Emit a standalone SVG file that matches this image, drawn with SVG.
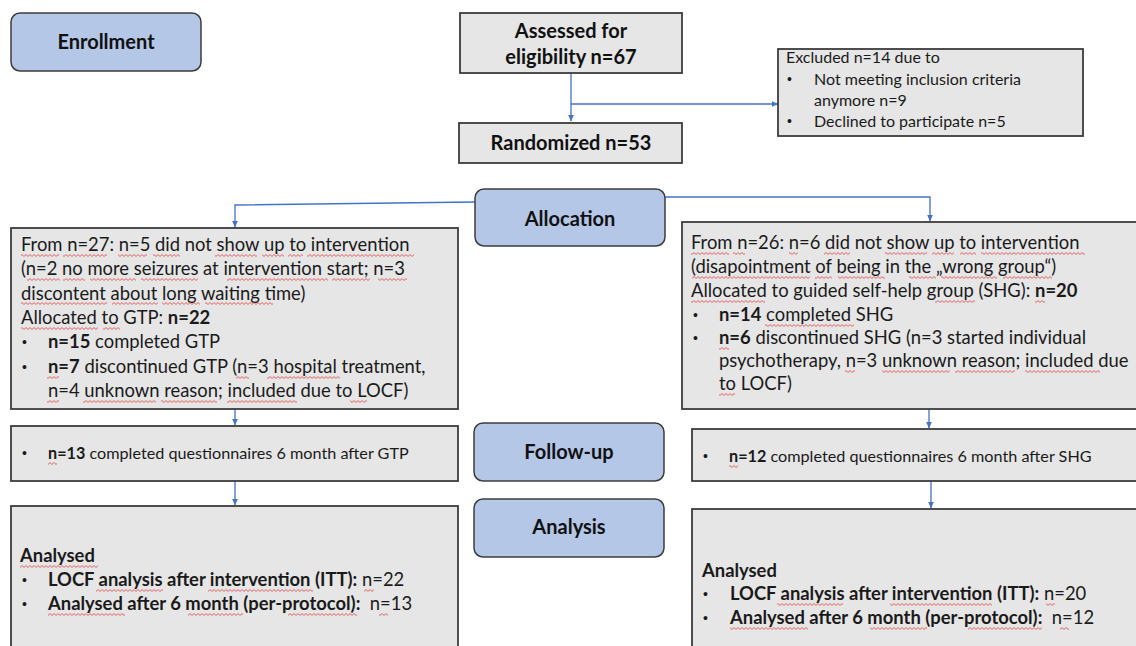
<svg xmlns="http://www.w3.org/2000/svg" width="1136" height="646" viewBox="0 0 1136 646">
<style>
.stage{fill:#b4c7e7;stroke:#3c3c3c;stroke-width:1.5}
.box{fill:#e6e6e6;stroke:#3c3c3c;stroke-width:1.8}
text{font-family:Lato,'Liberation Sans',sans-serif;fill:#1a1a1a}
.h{font-weight:bold;font-size:20px;text-anchor:middle;fill:#111}
.t{font-size:18.4px}
.s{font-size:16.2px}
.e{font-size:16px}
.b{font-weight:bold}
.bu{font-family:'Liberation Sans',sans-serif;font-size:14px}
.sq rect{fill:url(#sq);height:3px}
.conn{fill:none;stroke:#4472c4;stroke-width:1.3}
</style>
<defs>
<marker id="ar" markerWidth="8" markerHeight="8" refX="6" refY="4" orient="auto" markerUnits="userSpaceOnUse"><path d="M0,1.2 L6.5,4 L0,6.8z" fill="#4472c4"/></marker>
<pattern id="sq" width="4" height="3" patternUnits="userSpaceOnUse"><path d="M-2,0.5 L0,2.5 L2,0.5 L4,2.5 L6,0.5" fill="none" stroke="#e2363a" stroke-width="0.8"/></pattern>
</defs>

<g id="connectors">
<path class="conn" d="M571,73 V121" marker-end="url(#ar)"/>
<path class="conn" d="M571,104 H778" marker-end="url(#ar)"/>
<path class="conn" d="M475,202 L235,205 V227" marker-end="url(#ar)"/>
<path class="conn" d="M665,197 H930 V221" marker-end="url(#ar)"/>
<path class="conn" d="M235,409 V425" marker-end="url(#ar)"/>
<path class="conn" d="M235,481 V505" marker-end="url(#ar)"/>
<path class="conn" d="M929,409 V428" marker-end="url(#ar)"/>
<path class="conn" d="M931,481 V508" marker-end="url(#ar)"/>
</g>

<g id="enrollment">
<rect class="stage" x="11" y="13" width="190" height="58" rx="9"/>
<text class="h" x="106" y="49">Enrollment</text>
</g>

<g id="assessed">
<rect class="box" x="460" y="13" width="222" height="60"/>
<text class="h" x="571" y="38">Assessed for</text>
<text class="h" x="571" y="64">eligibility n=67</text>
</g>

<g id="excluded">
<rect class="box" x="778" y="49" width="305" height="87"/>
<text class="e" x="786" y="63">Excluded n=14 due to</text>
<text class="bu" x="787" y="84">•</text>
<text class="e" x="814" y="85">Not meeting inclusion criteria</text>
<text class="e" x="814" y="106">anymore n=9</text>
<text class="bu" x="787" y="126">•</text>
<text class="e" x="814" y="127">Declined to participate n=5</text>
</g>

<g id="randomized">
<rect class="box" x="459" y="123" width="223" height="40"/>
<text class="h" x="571" y="150">Randomized n=53</text>
</g>

<g id="allocation">
<rect class="stage" x="475" y="189" width="190" height="57" rx="9"/>
<text class="h" x="570" y="226">Allocation</text>
</g>

<g id="gtp">
<rect class="box" x="11" y="228" width="447" height="181"/>
<text class="t" x="21" y="251">From n=27: n=5 did not show up to intervention</text>
<text class="t" x="21" y="275">(n=2 no more seizures at intervention start; n=3</text>
<text class="t" x="21" y="300">discontent about long waiting time)</text>
<text class="t" x="21" y="324">Allocated to GTP: <tspan class="b">n=22</tspan></text>
<text class="bu" x="22" y="347">•</text>
<text class="t" x="48" y="348"><tspan class="b">n=15</tspan> completed GTP</text>
<text class="bu" x="22" y="372">•</text>
<text class="t" x="48" y="373"><tspan class="b">n=7</tspan> discontinued GTP (n=3 hospital treatment,</text>
<text class="t" x="48" y="397">n=4 unknown reason; included due to LOCF)</text>
<g class="sq">
<g transform="translate(0,254)"><rect x="21" width="38"/><rect x="63" width="44"/><rect x="118" width="29"/><rect x="153" width="27"/><rect x="215" width="42"/><rect x="262" width="22"/><rect x="288" width="15"/><rect x="307" width="107"/></g>
<g transform="translate(0,278)"><rect x="27" width="33"/><rect x="63" width="22"/><rect x="90" width="46"/><rect x="141" width="57"/><rect x="227" width="101"/><rect x="332" width="38"/><rect x="378" width="29"/></g>
<g transform="translate(0,302)"><rect x="21" width="86"/><rect x="112" width="46"/><rect x="162" width="38"/><rect x="205" width="68"/></g>
<g transform="translate(0,327)"><rect x="21" width="77"/><rect x="103" width="17"/></g>
<g transform="translate(0,376)"><rect x="47" width="12"/><rect x="236" width="13"/><rect x="267" width="73"/></g>
<g transform="translate(0,400)"><rect x="47" width="12"/><rect x="83" width="73"/><rect x="161" width="56"/><rect x="227" width="70"/><rect x="350" width="17"/></g>
</g>
</g>

<g id="shg">
<rect class="box" x="682" y="222" width="470" height="187"/>
<text class="t" x="691" y="249">From n=26: n=6 did not show up to intervention</text>
<text class="t" x="691" y="273">(disapointment of being in the „wrong group“)</text>
<text class="t" x="691" y="297">Allocated to guided self-help group (SHG): <tspan class="b">n=20</tspan></text>
<text class="bu" x="693" y="320">•</text>
<text class="t" x="719" y="321"><tspan class="b">n=14</tspan> completed SHG</text>
<text class="bu" x="693" y="343">•</text>
<text class="t" x="719" y="344"><tspan class="b">n=6</tspan> discontinued SHG (n=3 started individual</text>
<text class="t" x="719" y="367">psychotherapy, n=3 unknown reason; included due</text>
<text class="t" x="719" y="390">to LOCF)</text>
<g class="sq">
<g transform="translate(0,252)"><rect x="691" width="38"/><rect x="733" width="12"/><rect x="789" width="9"/><rect x="824" width="26"/><rect x="885" width="42"/><rect x="932" width="22"/><rect x="960" width="16"/><rect x="981" width="104"/></g>
<g transform="translate(0,276)"><rect x="692" width="118"/><rect x="815" width="17"/><rect x="838" width="47"/><rect x="909" width="27"/><rect x="941" width="56"/><rect x="1003" width="49"/></g>
<g transform="translate(0,300)"><rect x="691" width="74"/><rect x="935" width="40"/><rect x="1035" width="10"/></g>
<g transform="translate(0,324)"><rect x="765" width="89"/></g>
<g transform="translate(0,347)"><rect x="719" width="10"/></g>
<g transform="translate(0,370)"><rect x="845" width="10"/><rect x="882" width="68"/><rect x="955" width="60"/><rect x="1025" width="75"/></g>
<g transform="translate(0,393)"><rect x="719" width="16"/></g>
</g>
</g>

<g id="followup">
<rect class="stage" x="474" y="423" width="190" height="58" rx="9"/>
<text class="h" x="569" y="459">Follow-up</text>
</g>

<g id="gtp-followup">
<rect class="box" x="11" y="426" width="447" height="55"/>
<text class="bu" x="22" y="458">•</text>
<text class="s" x="48" y="459"><tspan class="b">n=13</tspan> completed questionnaires 6 month after GTP</text>
<g class="sq"><g transform="translate(0,462)"><rect x="48" width="9"/></g></g>
</g>

<g id="shg-followup">
<rect class="box" x="692" y="429" width="460" height="52"/>
<text class="bu" x="703" y="461">•</text>
<text class="s" x="729" y="462"><tspan class="b">n=12</tspan> completed questionnaires 6 month after SHG</text>
<g class="sq"><g transform="translate(0,465)"><rect x="729" width="9"/></g></g>
</g>

<g id="analysis">
<rect class="stage" x="474" y="499" width="190" height="58" rx="9"/>
<text class="h" x="569" y="534">Analysis</text>
</g>

<g id="gtp-analysis">
<rect class="box" x="11" y="506" width="447" height="160"/>
<text class="t b" x="20" y="562">Analysed</text>
<text class="bu" x="22" y="585">•</text>
<text class="t" x="48" y="586"><tspan class="b">LOCF analysis after intervention (ITT):</tspan> n=22</text>
<text class="bu" x="22" y="609">•</text>
<text class="t" x="48" y="610"><tspan class="b">Analysed after 6 month (per-protocol):</tspan>&#160; n=13</text>
<g class="sq">
<g transform="translate(0,565)"><rect x="20" width="78"/></g>
<g transform="translate(0,589)"><rect x="96" width="67"/><rect x="208" width="105"/><rect x="364" width="10"/></g>
<g transform="translate(0,613)"><rect x="48" width="77"/><rect x="188" width="55"/><rect x="288" width="69"/><rect x="379" width="9"/></g>
</g>
</g>

<g id="shg-analysis">
<rect class="box" x="692" y="509" width="460" height="160"/>
<text class="t b" x="702" y="577">Analysed</text>
<text class="bu" x="703" y="599">•</text>
<text class="t" x="730" y="600"><tspan class="b">LOCF analysis after intervention (ITT):</tspan> n=20</text>
<text class="bu" x="703" y="623">•</text>
<text class="t" x="730" y="624"><tspan class="b">Analysed after 6 month (per-protocol):</tspan>&#160; n=12</text>
<g class="sq">
<g transform="translate(0,603)"><rect x="777" width="66"/><rect x="890" width="102"/><rect x="1046" width="9"/></g>
<g transform="translate(0,627)"><rect x="730" width="78"/><rect x="870" width="57"/><rect x="968" width="74"/><rect x="1060" width="9"/></g>
</g>
</g>
</svg>
